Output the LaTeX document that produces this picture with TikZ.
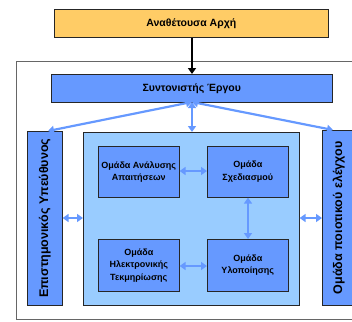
\documentclass[tikz,border=0pt]{standalone}
\usepackage{fontspec}
\setmainfont{Liberation Sans}
\usetikzlibrary{arrows.meta}
\definecolor{boxblue}{HTML}{6699FF}
\definecolor{lightblue}{HTML}{99CCFF}
\definecolor{gold}{HTML}{FFCC66}
\begin{document}
\begin{tikzpicture}[x=1pt,y=-1pt,
  box/.style={draw=black!85,line width=0.6pt,inner sep=0pt,anchor=north west,font=\bfseries},
  bluebox/.style={box,fill=boxblue},
  link/.style={draw=boxblue,line width=2.2pt,{Triangle[width=8pt,length=6pt]}-{Triangle[width=8pt,length=6pt]}},
  txt/.style={font=\bfseries\fontsize{9}{12.5}\selectfont,align=center}]
\useasboundingbox (0,0) rectangle (352,321);
\draw[draw=black!60,line width=0.8pt] (16,61) rectangle (380,319);
\node[box,fill=gold,minimum width=274pt,minimum height=28pt,font=\bfseries\fontsize{10.5}{12}\selectfont] (client) at (54,9) {Αναθέτουσα Αρχή};
\node[bluebox,minimum width=281pt,minimum height=28pt,font=\bfseries\fontsize{10.5}{12}\selectfont] (coord) at (51,74) {Συντονιστής Έργου};
\node[box,fill=lightblue,minimum width=216pt,minimum height=173pt] (center) at (83,132) {};
\node[bluebox,minimum width=35pt,minimum height=174pt] (sci) at (27,131) {};
\node[rotate=90,font=\bfseries\fontsize{12.5}{14}\selectfont] (scit) at (sci.center) {Επιστημονικός Υπεύθυνος};
\node[bluebox,minimum width=31pt,minimum height=175pt] (qual) at (322,130) {};
\node[rotate=90,font=\bfseries\fontsize{12.5}{14}\selectfont] (qualt) at ([xshift=1pt]qual.center) {Ομάδα ποιοτικού ελέγχου};
\node[bluebox,minimum width=81pt,minimum height=51pt] (req) at (98,146) {};
\node[txt] at (req.center) {Ομάδα Ανάλυσης\\Απαιτήσεων};
\node[bluebox,minimum width=81pt,minimum height=51pt] (des) at (207,146) {};
\node[txt] at (des.center) {Ομάδα\\Σχεδιασμού};
\node[bluebox,minimum width=81pt,minimum height=52pt] (doc) at (98,239) {};
\node[txt] at (doc.center) {Ομάδα\\Ηλεκτρονικής\\Τεκμηρίωσης};
\node[bluebox,minimum width=81pt,minimum height=52pt] (imp) at (207,239) {};
\node[txt] at (imp.center) {Ομάδα\\Υλοποίησης};
\coordinate (cb) at (192,102);
\draw[line width=2.4pt,-{Triangle[width=8pt,length=6pt]}] (client.south -| cb) -- (coord.north -| cb);
\draw[link] (cb) -- (cb |- center.north);
\draw[link] (cb) -- (48,131);
\draw[link] (cb) -- (333,130);
\draw[link] (sci.east |- 0,218) -- (center.west |- 0,218);
\draw[link] (center.east |- 0,218) -- (qual.west |- 0,218);
\draw[link] (req.east |- 0,171) -- (des.west |- 0,171);
\draw[link] (doc.east |- 0,266) -- (imp.west |- 0,266);
\draw[link] (des.south -| 248,0) -- (imp.north -| 248,0);
\end{tikzpicture}
\end{document}
